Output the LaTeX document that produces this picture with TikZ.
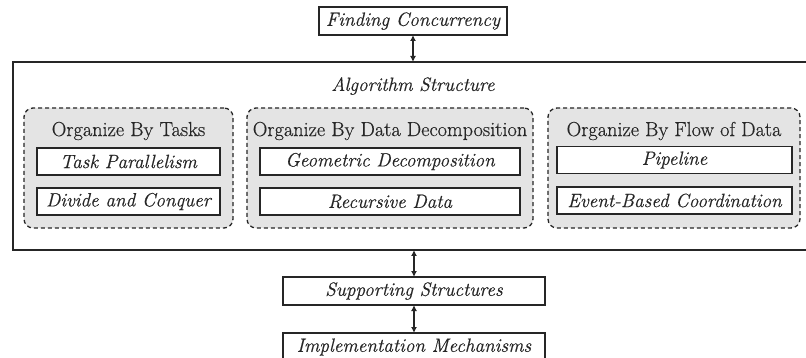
\documentclass[tikz,border=0pt]{standalone}
\usepackage{fontspec}
\setmainfont{Latin Modern Roman}[FakeBold=0.45, ItalicFeatures={FakeBold=0.45}]
\usetikzlibrary{arrows.meta}
\definecolor{ink}{HTML}{262626}
\definecolor{groupfill}{HTML}{E4E4E4}
\begin{document}
\begin{tikzpicture}[x=1pt,y=-1pt,
  every node/.style={inner sep=0pt, outer sep=0pt, text=ink},
  txt/.style={font=\fontsize{20.3}{22}\selectfont},
  itxt/.style={font=\fontsize{19.2}{21}\selectfont\itshape},
  plainbox/.style={draw=ink, line width=1.3pt, fill=white, minimum height=28pt, itxt},
  groupbox/.style={draw=ink, line width=1.3pt, fill=groupfill, dash pattern=on 4pt off 3pt,
                   rounded corners=9pt, minimum height=120pt},
  link/.style={draw=ink, line width=1.2pt, {Latex[length=6pt,width=6pt]}-{Latex[length=6pt,width=6pt]}}
]
\useasboundingbox (0,0) rectangle (806,358);

% top box
\node[plainbox, minimum width=188pt] (fc) at (413,21) {Finding Concurrency};

% outer container
\node[draw=ink, line width=1.3pt, fill=white, minimum width=799pt, minimum height=188pt] (main) at (412.5,156) {};
\node[itxt] (astitle) at (413,86) {Algorithm Structure};

% the three groups
\node[groupbox, minimum width=209pt] (g1) at (128.5,168) {};
\node[groupbox, minimum width=286pt] (g2) at (390,168) {};
\node[groupbox, minimum width=252pt] (g3) at (674,168) {};

\node[txt] (t1) at (128.5,131) {Organize By Tasks};
\node[txt] (t2) at (390,131) {Organize By Data Decomposition};
\node[txt] (t3) at (674,131) {Organize By Flow of Data};

\node[plainbox, minimum width=183pt, minimum height=27pt] (tp) at (128.5,161.5) {Task Parallelism};
\node[plainbox, minimum width=183pt, minimum height=27pt] (dc) at (128.5,201.5) {Divide and Conquer};
\node[plainbox, minimum width=260pt, minimum height=27pt] (gd) at (390,161.5) {Geometric Decomposition};
\node[plainbox, minimum width=260pt, minimum height=27pt] (rd) at (390,201.5) {Recursive Data};
\node[plainbox, minimum width=235pt, minimum height=27pt] (pl) at (674.5,160) {Pipeline};
\node[plainbox, minimum width=235pt, minimum height=27pt] (eb) at (674.5,200.5) {Event-Based Coordination};

% lower boxes
\node[plainbox, minimum width=262pt] (ss) at (414,291) {Supporting Structures};
\node[plainbox, minimum width=262pt] (im) at (414,347) {Implementation Mechanisms};

% connectors
\draw[link] (fc.south) -- (fc.south |- main.north);
\draw[link] (ss.north |- main.south) -- (ss.north);
\draw[link] (ss.south) -- (im.north);
\end{tikzpicture}
\end{document}
